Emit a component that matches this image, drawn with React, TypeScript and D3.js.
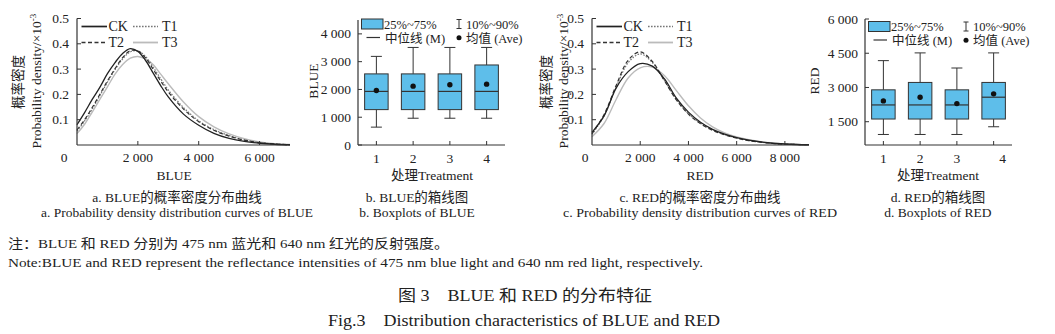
import React from "react";
import * as d3 from "d3";

// ---------- Data ----------
const blueX = [0, 250, 500, 750, 1000, 1250, 1500, 1750, 2000, 2250, 2500, 2750, 3000, 3500, 4000, 4500, 5000, 5500, 6000, 6500, 7000];
const blueCK = [0.08, 0.128, 0.18, 0.228, 0.282, 0.326, 0.362, 0.381, 0.37, 0.335, 0.285, 0.235, 0.19, 0.122, 0.078, 0.046, 0.026, 0.014, 0.007, 0.003, 0.001];
const blueT1 = [0.055, 0.095, 0.142, 0.195, 0.248, 0.298, 0.34, 0.368, 0.372, 0.35, 0.308, 0.262, 0.218, 0.148, 0.096, 0.061, 0.037, 0.02, 0.01, 0.004, 0.001];
const blueT2 = [0.06, 0.1, 0.148, 0.2, 0.253, 0.302, 0.345, 0.373, 0.372, 0.345, 0.3, 0.253, 0.21, 0.142, 0.092, 0.058, 0.035, 0.019, 0.009, 0.004, 0.001];
const blueT3 = [0.045, 0.082, 0.13, 0.18, 0.23, 0.28, 0.318, 0.343, 0.35, 0.34, 0.318, 0.28, 0.242, 0.17, 0.112, 0.072, 0.044, 0.025, 0.012, 0.005, 0.002];

const redX = [0, 500, 1000, 1500, 2000, 2500, 3000, 3500, 4000, 4500, 5000, 5500, 6000, 6500, 7000, 7500, 8000, 8500, 9000];
const redCK = [0.05, 0.115, 0.225, 0.29, 0.322, 0.312, 0.262, 0.185, 0.13, 0.09, 0.062, 0.043, 0.029, 0.019, 0.012, 0.007, 0.004, 0.002, 0.001];
const redT1 = [0.042, 0.115, 0.228, 0.325, 0.36, 0.326, 0.256, 0.18, 0.124, 0.086, 0.06, 0.041, 0.028, 0.018, 0.011, 0.006, 0.003, 0.002, 0.001];
const redT2 = [0.045, 0.12, 0.235, 0.335, 0.368, 0.33, 0.255, 0.178, 0.122, 0.084, 0.058, 0.04, 0.027, 0.017, 0.011, 0.006, 0.003, 0.002, 0.001];
const redT3 = [0.033, 0.085, 0.18, 0.265, 0.305, 0.308, 0.275, 0.215, 0.155, 0.107, 0.072, 0.048, 0.032, 0.021, 0.013, 0.008, 0.004, 0.002, 0.001];

const seriesNames = ["CK", "T1", "T2", "T3"];
const densityTicks = [0.1, 0.2, 0.3, 0.4, 0.5];
const blueXTicks = [2000, 4000, 6000];
const redXTicks = [2000, 4000, 6000, 8000];

const treatments = [1, 2, 3, 4];
const blueP10 = [643, 964, 964, 964];
const blueQ1 = [1274, 1274, 1274, 1274];
const blueMed = [1929, 1929, 1929, 1929];
const blueQ3 = [2560, 2560, 2560, 2881];
const blueP90 = [3190, 3512, 3512, 3512];
const blueMean = [1964, 2119, 2167, 2190];
const blueBoxTicks = [0, 1000, 2000, 3000, 4000];

const redP10 = [941, 941, 941, 1279];
const redQ1 = [1618, 1618, 1618, 1618];
const redMed = [2235, 2235, 2235, 2574];
const redQ3 = [2897, 3221, 2897, 3221];
const redP90 = [4176, 4515, 3853, 4515];
const redMean = [2412, 2574, 2294, 2721];
const redBoxTicks = [1500, 3000, 4500, 6000];

// ---------- Styles ----------
const FONT = "'Liberation Serif','Times New Roman','Noto Sans CJK SC',serif";
const AX = "#333";
const TXT = "#222";
const BOXFILL = "#5EBEEA";
const fmt = (v: number) => d3.format(",")(v).replace(/,/g, " ");

const lineStyles: Record<string, { stroke: string; dash?: string; width: number }> = {
  CK: { stroke: "#222", width: 1.3 },
  T1: { stroke: "#777", dash: "1.6 1.4", width: 1.2 },
  T2: { stroke: "#333", dash: "4 2.5", width: 1.2 },
  T3: { stroke: "#bbb", width: 1.4 },
};

type DProps = {
  x0: number;
  x1: number;
  xMax: number;
  xTicks: number[];
  xs: number[];
  values: number[][];
  xLabel: string;
  xLabelX: number;
  zeroX: number;
  yl1: number;
  yl2: number;
};

function DensityPanel(p: DProps) {
  const x = d3.scaleLinear().domain([0, p.xMax]).range([p.x0, p.x1]);
  const y = d3.scaleLinear().domain([0, 0.5]).range([145, 18.5]);
  const line = d3
    .line<number>()
    .x((_, i) => x(p.xs[i]))
    .y((d) => y(d))
    .curve(d3.curveCatmullRom);
  const order = [3, 1, 2, 0];
  const legend = [
    { n: "CK", lx1: p.x0 + 4.5, lx2: p.x0 + 30, tx: p.x0 + 31.5, ly: 26.5, ty: 31 },
    { n: "T1", lx1: p.x0 + 56, lx2: p.x0 + 81, tx: p.x0 + 85, ly: 26.5, ty: 31 },
    { n: "T2", lx1: p.x0 + 4.5, lx2: p.x0 + 30, tx: p.x0 + 31.5, ly: 42.5, ty: 47 },
    { n: "T3", lx1: p.x0 + 56, lx2: p.x0 + 81, tx: p.x0 + 85, ly: 42.5, ty: 47 },
  ];
  return (
    <g>
      {order.map((i) => {
        const s = lineStyles[seriesNames[i]];
        return (
          <path
            key={i}
            d={line(p.values[i]) || ""}
            fill="none"
            stroke={s.stroke}
            strokeWidth={s.width}
            strokeDasharray={s.dash}
          />
        );
      })}
      <line x1={p.x0} x2={p.x1} y1={y(0)} y2={y(0)} stroke={AX} strokeWidth={1.2} />
      <line x1={p.x0} x2={p.x0} y1={y(0)} y2={y(0.5)} stroke={AX} strokeWidth={1.2} />
      {densityTicks.map((t) => (
        <g key={t}>
          <line x1={p.x0} x2={p.x0 + 4} y1={y(t)} y2={y(t)} stroke={AX} />
          <text x={p.x0 - 8} y={y(t) + 4.5} textAnchor="end" fontSize={13.5} fill={TXT}>
            {t.toFixed(1)}
          </text>
        </g>
      ))}
      {p.xTicks.map((t) => (
        <g key={t}>
          <line x1={x(t)} x2={x(t)} y1={y(0)} y2={y(0) - 4} stroke={AX} />
          <text x={x(t)} y={162} textAnchor="middle" fontSize={13.5} fill={TXT}>
            {fmt(t)}
          </text>
        </g>
      ))}
      <text x={p.zeroX} y={162} textAnchor="middle" fontSize={13.5} fill={TXT}>
        0
      </text>
      <text x={p.xLabelX} y={180} textAnchor="middle" fontSize={13.5} fill={TXT}>
        {p.xLabel}
      </text>
      <text transform={`translate(${p.yl1},82) rotate(-90)`} textAnchor="middle" fontSize={13.5} fill={TXT}>
        概率密度
      </text>
      <text transform={`translate(${p.yl2},81) rotate(-90)`} textAnchor="middle" fontSize={13.5} fill={TXT}>
        Probability density/×10
        <tspan dy={-5} fontSize={9}>
          -3
        </tspan>
      </text>
      {legend.map((l) => {
        const s = lineStyles[l.n];
        return (
          <g key={l.n}>
            <line x1={l.lx1} x2={l.lx2} y1={l.ly} y2={l.ly} stroke={s.stroke} strokeWidth={s.width + 0.4} strokeDasharray={s.dash} />
            <text x={l.tx} y={l.ty} fontSize={14} fill={TXT}>
              {l.n}
            </text>
          </g>
        );
      })}
    </g>
  );
}

type BProps = {
  x0: number;
  x1: number;
  yMin: number;
  yMax: number;
  yTop: number;
  yTicks: number[];
  p10: number[];
  q1: number[];
  med: number[];
  q3: number[];
  p90: number[];
  mean: number[];
  yLabel: string;
  yLabelX: number;
  xLabelX: number;
  legTop: number;
  lastLabelShift: number;
};

function BoxPanel(p: BProps) {
  const x = d3.scalePoint<number>().domain(treatments).range([p.x0, p.x1]).padding(0.5);
  const y = d3.scaleLinear().domain([p.yMin, p.yMax]).range([145, p.yTop]);
  const bw = 23.5;
  const cw = 11;
  const lt = p.legTop;
  return (
    <g>
      {treatments.map((t, i) => {
        const cx = x(t) as number;
        return (
          <g key={t}>
            <line x1={cx} x2={cx} y1={y(p.q3[i])} y2={y(p.p90[i])} stroke={AX} />
            <line x1={cx} x2={cx} y1={y(p.q1[i])} y2={y(p.p10[i])} stroke={AX} />
            <line x1={cx - cw / 2} x2={cx + cw / 2} y1={y(p.p90[i])} y2={y(p.p90[i])} stroke={AX} />
            <line x1={cx - cw / 2} x2={cx + cw / 2} y1={y(p.p10[i])} y2={y(p.p10[i])} stroke={AX} />
            <rect
              x={cx - bw / 2}
              y={y(p.q3[i])}
              width={bw}
              height={y(p.q1[i]) - y(p.q3[i])}
              fill={BOXFILL}
              stroke={AX}
              strokeWidth={1}
            />
            <line x1={cx - bw / 2} x2={cx + bw / 2} y1={y(p.med[i])} y2={y(p.med[i])} stroke={AX} strokeWidth={1.2} />
            <circle cx={cx} cy={y(p.mean[i])} r={2.7} fill="#111" />
            <line x1={cx} x2={cx} y1={145} y2={141} stroke={AX} />
            <text x={cx + (i === 3 ? p.lastLabelShift : 0)} y={162.5} textAnchor="middle" fontSize={13.5} fill={TXT}>
              {t}
            </text>
          </g>
        );
      })}
      <line x1={p.x0} x2={p.x1} y1={145} y2={145} stroke={AX} strokeWidth={1.2} />
      <line x1={p.x0} x2={p.x0} y1={145} y2={p.yTop} stroke={AX} strokeWidth={1.2} />
      {p.yTicks.map((t) => (
        <g key={t}>
          <line x1={p.x0} x2={p.x0 + 4} y1={y(t)} y2={y(t)} stroke={AX} />
          <text x={p.x0 - 7} y={y(t) + 4.5} textAnchor="end" fontSize={13.5} fill={TXT}>
            {fmt(t)}
          </text>
        </g>
      ))}
      <text x={p.xLabelX} y={180} textAnchor="middle" fontSize={13.5} fill={TXT}>
        处理Treatment
      </text>
      <text transform={`translate(${p.yLabelX},81) rotate(-90)`} textAnchor="middle" fontSize={13.5} fill={TXT}>
        {p.yLabel}
      </text>
      {/* legend */}
      <rect x={p.x0 + 3.5} y={lt - 0.5} width={21.5} height={10} fill={BOXFILL} stroke={AX} strokeWidth={1} />
      <text x={p.x0 + 26} y={lt + 9} fontSize={12.5} fill={TXT}>
        25%~75%
      </text>
      <line x1={p.x0 + 101} x2={p.x0 + 101} y1={lt} y2={lt + 9} stroke={AX} />
      <line x1={p.x0 + 98.5} x2={p.x0 + 103.5} y1={lt} y2={lt} stroke={AX} />
      <line x1={p.x0 + 98.5} x2={p.x0 + 103.5} y1={lt + 9} y2={lt + 9} stroke={AX} />
      <text x={p.x0 + 108} y={lt + 9} fontSize={12.5} fill={TXT}>
        10%~90%
      </text>
      <line x1={p.x0 + 8.5} x2={p.x0 + 22} y1={lt + 18} y2={lt + 18} stroke={AX} strokeWidth={1.2} />
      <text x={p.x0 + 27} y={lt + 23} fontSize={12.5} fill={TXT}>
        中位线 (M)
      </text>
      <circle cx={p.x0 + 101} cy={lt + 18.3} r={2.5} fill="#111" />
      <text x={p.x0 + 108} y={lt + 23} fontSize={12.5} fill={TXT}>
        均值 (Ave)
      </text>
    </g>
  );
}

export default function App() {
  return (
    <svg
      width={1055}
      height={334}
      viewBox="0 0 1055 334"
      style={{ position: "absolute", left: 0, top: 0, background: "#fff" }}
      fontFamily={FONT}
    >
      <rect x={0} y={0} width={1055} height={334} fill="#fff" />
      <DensityPanel
        x0={77}
        x1={290}
        xMax={7000}
        xTicks={blueXTicks}
        xs={blueX}
        values={[blueCK, blueT1, blueT2, blueT3]}
        xLabel="BLUE"
        xLabelX={174}
        zeroX={64}
        yl1={23}
        yl2={41}
      />
      <BoxPanel
        x0={358}
        x1={505}
        yMin={0}
        yMax={4500}
        yTop={20}
        yTicks={blueBoxTicks}
        p10={blueP10}
        q1={blueQ1}
        med={blueMed}
        q3={blueQ3}
        p90={blueP90}
        mean={blueMean}
        yLabel="BLUE"
        yLabelX={318}
        xLabelX={432}
        legTop={19.5}
        lastLabelShift={0}
      />
      <DensityPanel
        x0={592}
        x1={809}
        xMax={9000}
        xTicks={redXTicks}
        xs={redX}
        values={[redCK, redT1, redT2, redT3]}
        xLabel="RED"
        xLabelX={700}
        zeroX={585}
        yl1={551}
        yl2={568}
      />
      <BoxPanel
        x0={865}
        x1={1012}
        yMin={480}
        yMax={6000}
        yTop={19}
        yTicks={redBoxTicks}
        p10={redP10}
        q1={redQ1}
        med={redMed}
        q3={redQ3}
        p90={redP90}
        mean={redMean}
        yLabel="RED"
        yLabelX={819}
        xLabelX={938}
        legTop={22}
        lastLabelShift={9}
      />
      {/* captions */}
      <g fontSize={13.5} fill={TXT} textAnchor="middle">
        <text x={177} y={202}>a. BLUE的概率密度分布曲线</text>
        <text x={177} y={217} textLength={272} lengthAdjust="spacingAndGlyphs">
          a. Probability density distribution curves of BLUE
        </text>
        <text x={417} y={202}>b. BLUE的箱线图</text>
        <text x={417} y={217}>b. Boxplots of BLUE</text>
        <text x={700} y={202}>c. RED的概率密度分布曲线</text>
        <text x={700} y={217} textLength={274} lengthAdjust="spacingAndGlyphs">
          c. Probability density distribution curves of RED
        </text>
        <text x={938} y={202}>d. RED的箱线图</text>
        <text x={938} y={217}>d. Boxplots of RED</text>
      </g>
      <g fill={TXT}>
        <text x={8} y={248} fontSize={13} textLength={441} lengthAdjust="spacingAndGlyphs">
          注：BLUE 和 RED 分别为 475 nm 蓝光和 640 nm 红光的反射强度。
        </text>
        <text x={8} y={266.5} fontSize={13} textLength={695} lengthAdjust="spacingAndGlyphs">
          Note:BLUE and RED represent the reflectance intensities of 475 nm blue light and 640 nm red light, respectively.
        </text>
        <text x={398} y={301} fontSize={16} textLength={254} lengthAdjust="spacingAndGlyphs">
          图 3　BLUE 和 RED 的分布特征
        </text>
        <text x={328} y={325.5} fontSize={16} textLength={392} lengthAdjust="spacingAndGlyphs">
          Fig.3　Distribution characteristics of BLUE and RED
        </text>
      </g>
    </svg>
  );
}
